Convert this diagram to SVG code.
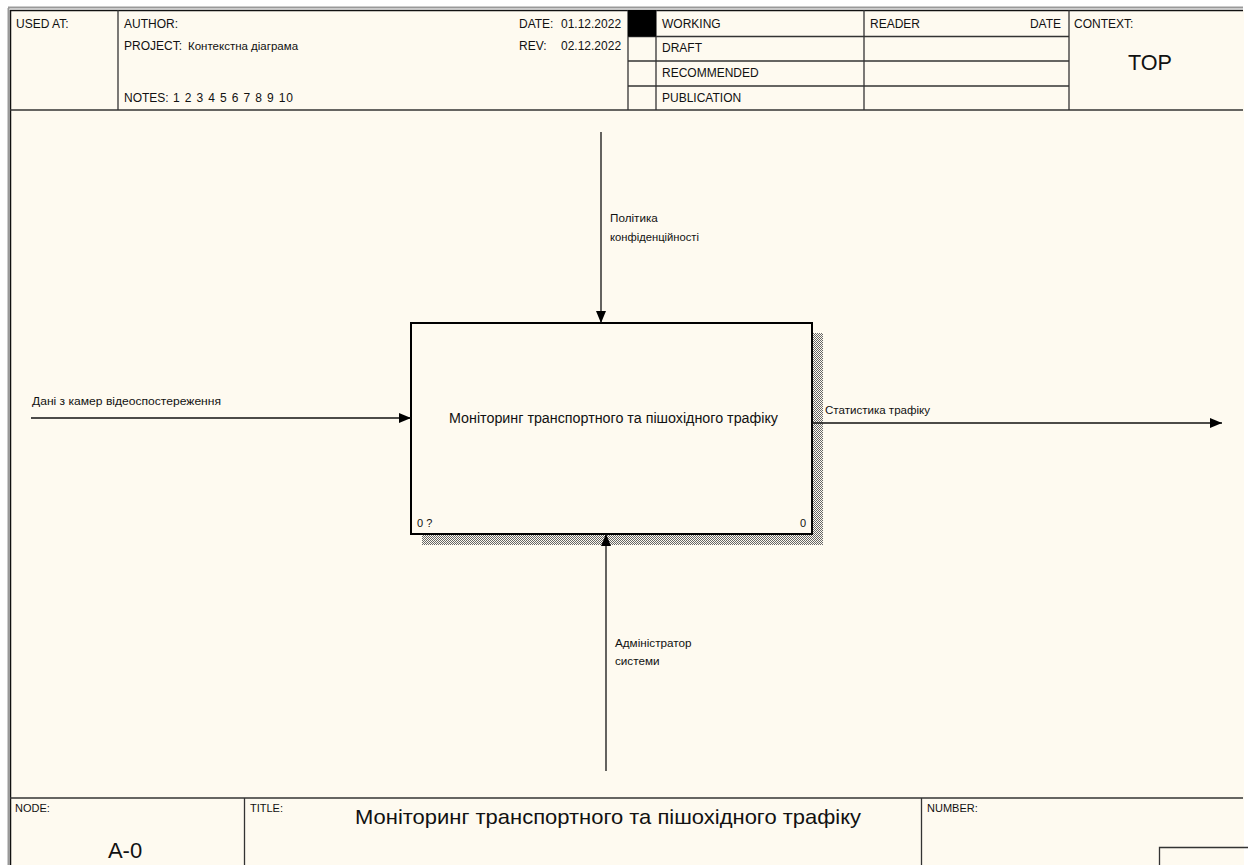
<svg xmlns="http://www.w3.org/2000/svg" width="1248" height="865" viewBox="0 0 1248 865">
<style>
text{font-family:"Liberation Sans",Arial,sans-serif;fill:#111;}
.h{font-size:12px;}
.s{font-size:11px;}
.lbl{font-size:11.7px;fill:#111;}
.grid{stroke:#333;stroke-width:1.3;fill:none;}
.arrow{stroke:#111;stroke-width:1.3;fill:none;}
</style>
<defs>
<pattern id="hatch" width="2" height="2" patternUnits="userSpaceOnUse">
<rect width="2" height="2" fill="#fefaf0"/>
<rect x="0" y="0" width="1" height="1" fill="#666"/>
<rect x="1" y="1" width="1" height="1" fill="#666"/>
</pattern>
<marker id="ah" viewBox="0 0 12 10" refX="12" refY="5" markerWidth="12" markerHeight="10" markerUnits="userSpaceOnUse" orient="auto">
<path d="M0,0 L12,5 L0,10 Z" fill="#000"/>
</marker>
</defs>
<rect x="0" y="0" width="1248" height="865" fill="#ffffff"/>
<rect x="10" y="10" width="1234" height="855" fill="#fefaf0"/>
<g id="frame">
<line x1="8.5" y1="8" x2="8.5" y2="865" stroke="#999" stroke-width="2"/>
<line x1="8" y1="7.5" x2="1243" y2="7.5" stroke="#999" stroke-width="2"/>
<line x1="10.5" y1="10" x2="10.5" y2="865" stroke="#111" stroke-width="1.5"/>
<line x1="10" y1="10.5" x2="1243" y2="10.5" stroke="#111" stroke-width="1.5"/>
<line x1="10" y1="110" x2="1243" y2="110" class="grid"/>
<line x1="118" y1="10" x2="118" y2="110" class="grid"/>
<line x1="628" y1="10" x2="628" y2="110" class="grid"/>
<line x1="656" y1="10" x2="656" y2="110" class="grid"/>
<line x1="864" y1="10" x2="864" y2="110" class="grid"/>
<line x1="1069" y1="10" x2="1069" y2="110" class="grid"/>
<line x1="628" y1="36.5" x2="1069" y2="36.5" class="grid"/>
<line x1="628" y1="61" x2="1069" y2="61" class="grid"/>
<line x1="628" y1="86" x2="1069" y2="86" class="grid"/>
<rect x="628" y="10" width="28" height="26.5" fill="#000"/>
<text class="h" x="16" y="28">USED AT:</text>
<text class="h" x="124" y="28">AUTHOR:</text>
<text class="h" x="124" y="50">PROJECT:</text>
<text class="h" x="188" y="50" style="font-size:11.5px">Контекстна діаграма</text>
<text class="h" x="124" y="102">NOTES:</text>
<text class="h" x="173" y="102" textLength="120" lengthAdjust="spacing">1 2 3 4 5 6 7 8 9 10</text>
<text class="h" x="519" y="28">DATE:</text>
<text class="h" x="561" y="28">01.12.2022</text>
<text class="h" x="519" y="50">REV:</text>
<text class="h" x="561" y="50">02.12.2022</text>
<text class="h" x="662" y="28">WORKING</text>
<text class="h" x="662" y="52">DRAFT</text>
<text class="h" x="662" y="77">RECOMMENDED</text>
<text class="h" x="662" y="102">PUBLICATION</text>
<text class="h" x="870" y="28">READER</text>
<text class="h" x="1061" y="28" text-anchor="end">DATE</text>
<text class="h" x="1074" y="28">CONTEXT:</text>
<text x="1150" y="70" text-anchor="middle" style="font-size:22px" textLength="44" lengthAdjust="spacingAndGlyphs">TOP</text>
<line x1="10" y1="798" x2="1243" y2="798" class="grid"/>
<line x1="244.5" y1="798" x2="244.5" y2="865" class="grid"/>
<line x1="921.5" y1="798" x2="921.5" y2="865" class="grid"/>
<path d="M1159.5,865 V847.5 H1248" class="grid"/>
<text class="s" x="15" y="812">NODE:</text>
<text class="s" x="250" y="812">TITLE:</text>
<text class="s" x="927" y="812">NUMBER:</text>
<text x="125" y="858" text-anchor="middle" style="font-size:22px">A-0</text>
<text x="608" y="824" text-anchor="middle" style="font-size:21px" textLength="506" lengthAdjust="spacingAndGlyphs">Моніторинг транспортного та пішохідного трафіку</text>
</g>
<g id="node-A0">
<rect x="812" y="333" width="11" height="212" fill="url(#hatch)"/>
<rect x="422" y="534" width="401" height="11" fill="url(#hatch)"/>
<rect x="411" y="323" width="401" height="211" fill="#fefaf0" stroke="#000" stroke-width="2"/>
<text x="613.5" y="423" text-anchor="middle" style="font-size:14px" textLength="329" lengthAdjust="spacingAndGlyphs">Моніторинг транспортного та пішохідного трафіку</text>
<text x="417" y="527" style="font-size:11px">0 ?</text>
<text x="800" y="527" style="font-size:11px">0</text>
</g>
<g id="connectors">
<line x1="601" y1="132" x2="601" y2="323" class="arrow" marker-end="url(#ah)"/>
<line x1="31" y1="418" x2="411" y2="418" class="arrow" marker-end="url(#ah)"/>
<line x1="812" y1="423" x2="1222" y2="423" class="arrow" marker-end="url(#ah)"/>
<line x1="606" y1="771" x2="606" y2="534" class="arrow" marker-end="url(#ah)"/>
<text class="lbl" x="610" y="222">Політика</text>
<text class="lbl" x="610" y="241" textLength="89" lengthAdjust="spacingAndGlyphs">конфіденційності</text>
<text class="lbl" x="32" y="405" textLength="189" lengthAdjust="spacingAndGlyphs">Дані з камер відеоспостереження</text>
<text class="lbl" x="825" y="414" textLength="105" lengthAdjust="spacingAndGlyphs">Статистика трафіку</text>
<text class="lbl" x="615" y="647">Адміністратор</text>
<text class="lbl" x="615" y="665">системи</text>
</g>
</svg>
